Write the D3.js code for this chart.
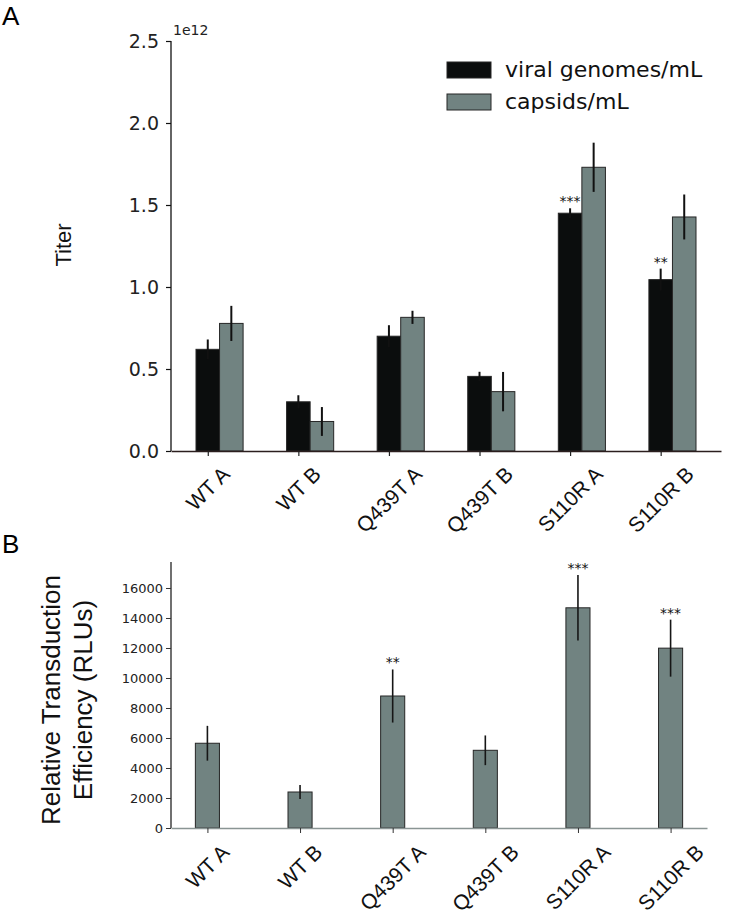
<!DOCTYPE html>
<html>
<head>
<meta charset="utf-8">
<script src="https://cdn.jsdelivr.net/npm/d3@7/dist/d3.min.js"></script>
<style>
  html, body { margin: 0; padding: 0; background: #fff; }
  svg { display: block; }
</style>
</head>
<body>
<svg id="chart" width="729" height="917"></svg>
<script>
// ---------- DATA ----------
const categories = ["WT A", "WT B", "Q439T A", "Q439T B", "S110R A", "S110R B"];

// Panel A (values in units of 1e12)
const genomes = [0.62, 0.30, 0.70, 0.455, 1.45, 1.045];
const genomesErr = [0.06, 0.04, 0.067, 0.028, 0.03, 0.067];
const capsids = [0.778, 0.18, 0.815, 0.362, 1.73, 1.427];
const capsidsErr = [0.107, 0.088, 0.04, 0.12, 0.15, 0.137];
const genomesStars = ["", "", "", "", "***", "**"];
const titerTicks = [0.0, 0.5, 1.0, 1.5, 2.0, 2.5];

// Panel B
const rlu = [5650, 2400, 8800, 5180, 14680, 11990];
const rluErr = [1160, 470, 1770, 990, 2180, 1900];
const rluStars = ["", "", "**", "", "***", "***"];
const rluTicks = [0, 2000, 4000, 6000, 8000, 10000, 12000, 14000, 16000];

const seriesNames = ["viral genomes/mL", "capsids/mL"];

// ---------- STYLE ----------
const BLACK = "#0b0d0d";
const GRAY = "#718381";
const EDGE = "#262626";
const numFont = "'DejaVu Sans', sans-serif";
const txtFont = "'Liberation Sans', Arial, sans-serif";

const svg = d3.select("#chart");

svg.append("text").attr("x", 2).attr("y", 25).attr("font-family", txtFont)
  .attr("font-size", 26).text("A");
svg.append("text").attr("x", 2).attr("y", 553).attr("font-family", txtFont)
  .attr("font-size", 26).text("B");

function rotatedLabels(g, xs, y0, labels, fontSize, angle) {
  labels.forEach((lab, i) => {
    const t = g.append("text")
      .attr("font-family", txtFont)
      .attr("font-size", fontSize)
      .attr("fill", "#111")
      .attr("text-anchor", "middle")
      .attr("dominant-baseline", "central")
      .text(lab);
    const L = t.node().getComputedTextLength();
    const h = fontSize * 0.72;
    const a = angle * Math.PI / 180;
    const H = L * Math.sin(a) + h * Math.cos(a);
    const cx = xs(i), cy = y0 + H / 2;
    t.attr("transform", `translate(${cx},${cy}) rotate(${-angle})`);
  });
}

// ================= PANEL A =================
(function () {
  const left = 171, right = 721, top = 41, bottom = 451;
  const bw = 0.26;
  const x = d3.scaleLinear().domain([-0.406, 5.666]).range([left, right]);
  const y = d3.scaleLinear().domain([0, 2.5]).range([bottom, top]);
  const g = svg.append("g");
  const wpx = x(bw) - x(0);

  const series = [
    { vals: genomes, errs: genomesErr, color: BLACK, off: 0 },
    { vals: capsids, errs: capsidsErr, color: GRAY, off: bw }
  ];
  series.forEach(s => {
    g.selectAll(null).data(s.vals).enter().append("rect")
      .attr("x", (d, i) => x(i + s.off) - wpx / 2)
      .attr("y", d => y(d))
      .attr("width", wpx)
      .attr("height", d => y(0) - y(d))
      .attr("fill", s.color)
      .attr("stroke", EDGE)
      .attr("stroke-width", 1);
  });
  series.forEach(s => {
    g.selectAll(null).data(s.vals).enter().append("line")
      .attr("x1", (d, i) => x(i + s.off)).attr("x2", (d, i) => x(i + s.off))
      .attr("y1", (d, i) => y(d - s.errs[i]))
      .attr("y2", (d, i) => y(d + s.errs[i]))
      .attr("stroke", "#111").attr("stroke-width", 2);
  });
  genomesStars.forEach((st, i) => {
    if (!st) return;
    g.append("text").attr("x", x(i)).attr("y", y(genomes[i] + genomesErr[i]) - 2)
      .attr("text-anchor", "middle").attr("font-family", numFont)
      .attr("font-size", 14).attr("fill", "#111").text(st);
  });

  const ya = d3.axisLeft(y).tickValues(titerTicks).tickFormat(d3.format(".1f"))
    .tickSize(5).tickPadding(7);
  const yg = g.append("g").attr("transform", `translate(${left},0)`).call(ya);
  yg.select(".domain").attr("stroke", "#111").attr("stroke-width", 1.3).attr("d", `M0,${top}V${bottom}`);
  yg.selectAll(".tick line").attr("stroke", "#111").attr("stroke-width", 1.2);
  yg.selectAll(".tick text").attr("font-family", numFont).attr("font-size", 19).attr("fill", "#222");

  const xa = d3.axisBottom(x).tickValues(d3.range(categories.length)).tickFormat("")
    .tickSize(5).tickSizeOuter(0);
  const xg = g.append("g").attr("transform", `translate(0,${bottom})`).call(xa);
  xg.select(".domain").attr("stroke", "#2b1e1e").attr("stroke-width", 1.5);
  xg.selectAll(".tick line").attr("stroke", "#222").attr("stroke-width", 1.2);

  rotatedLabels(g, i => x(i), bottom + 14, categories, 21, 45);

  g.append("text").attr("x", 173).attr("y", 35).attr("font-family", numFont)
    .attr("font-size", 14).attr("fill", "#222").text("1e12");

  g.append("text").attr("transform", "translate(71,245) rotate(-90)")
    .attr("text-anchor", "middle").attr("font-family", txtFont)
    .attr("font-size", 22).attr("fill", "#111").text("Titer");

  const colors = [BLACK, GRAY];
  seriesNames.forEach((n, i) => {
    const ly = 62 + i * 32;
    g.append("rect").attr("x", 447).attr("y", ly).attr("width", 44).attr("height", 16)
      .attr("fill", colors[i]).attr("stroke", EDGE).attr("stroke-width", 1);
    g.append("text").attr("x", 505).attr("y", ly + 15).attr("font-family", numFont)
      .attr("font-size", 22).attr("fill", "#111").text(n);
  });
})();

// ================= PANEL B =================
(function () {
  const left = 171, right = 707, top = 562, bottom = 828;
  const bw = 0.26;
  const x = d3.scaleLinear().domain([-0.393, 5.393]).range([left, right]);
  const y = d3.scaleLinear().domain([0, 17733]).range([bottom, top]);
  const g = svg.append("g");
  const wpx = x(bw) - x(0);

  g.selectAll(null).data(rlu).enter().append("rect")
    .attr("x", (d, i) => x(i) - wpx / 2)
    .attr("y", d => y(d))
    .attr("width", wpx)
    .attr("height", d => y(0) - y(d))
    .attr("fill", GRAY).attr("stroke", EDGE).attr("stroke-width", 1);
  g.selectAll(null).data(rlu).enter().append("line")
    .attr("x1", (d, i) => x(i)).attr("x2", (d, i) => x(i))
    .attr("y1", (d, i) => y(d - rluErr[i]))
    .attr("y2", (d, i) => y(d + rluErr[i]))
    .attr("stroke", "#161616").attr("stroke-width", 1.6);
  rluStars.forEach((st, i) => {
    if (!st) return;
    g.append("text").attr("x", x(i)).attr("y", y(rlu[i] + rluErr[i]) - 2)
      .attr("text-anchor", "middle").attr("font-family", numFont)
      .attr("font-size", 14).attr("fill", "#111").text(st);
  });

  const ya = d3.axisLeft(y).tickValues(rluTicks).tickFormat(d3.format("d"))
    .tickSize(5).tickPadding(3);
  const yg = g.append("g").attr("transform", `translate(${left},0)`).call(ya);
  yg.select(".domain").attr("stroke", "#111").attr("stroke-width", 1.2).attr("d", `M0,${top}V${bottom}`);
  yg.selectAll(".tick line").attr("stroke", "#333");
  yg.selectAll(".tick text").attr("font-family", numFont).attr("font-size", 13).attr("fill", "#222");

  const xa = d3.axisBottom(x).tickValues(d3.range(categories.length)).tickFormat("")
    .tickSize(5).tickSizeOuter(0);
  const xg = g.append("g").attr("transform", `translate(0,${bottom})`).call(xa);
  xg.select(".domain").attr("stroke", "#8a9594").attr("stroke-width", 1.5);
  xg.selectAll(".tick line").attr("stroke", "#333");

  rotatedLabels(g, i => x(i), bottom + 15, categories, 21, 45);

  const yl = g.append("text").attr("transform", "translate(0,700) rotate(-90)")
    .attr("text-anchor", "middle").attr("font-family", txtFont)
    .attr("font-size", 26).attr("fill", "#111");
  yl.append("tspan").attr("x", 0).attr("y", 60).text("Relative Transduction");
  yl.append("tspan").attr("x", 0).attr("y", 92).text("Efficiency (RLUs)");
})();
</script>
</body>
</html>
